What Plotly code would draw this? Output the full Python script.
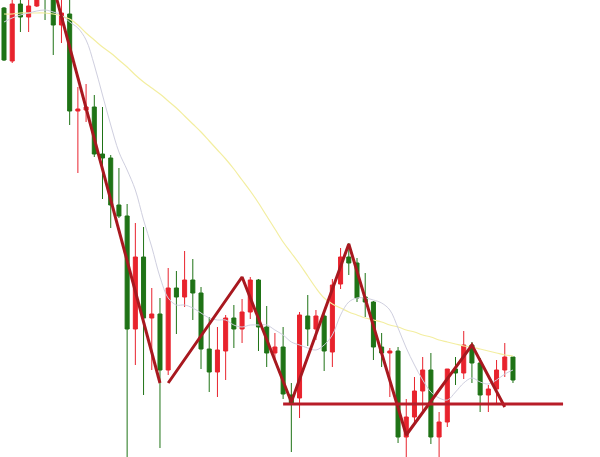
import plotly.graph_objects as go

# candle index positions
idx = list(range(63))

opens = [492, 439, 496, 483, 494, 512, 506, 475, 486, 389,
         390, 393, 346, 342, 295, 284, 171, 243, 182, 186,
         130, 212, 203, 220, 207, 151, 128, 149, 182, 171,
         188, 220, 173, 147, 153, 105, 102, 184, 171, 184,
         148, 216, 243, 237, 203, 198, 153, 147, 149, 63,
         83, 109, 130, 63, 78, 131, 127, 155, 137, 105,
         111, 130, 143]
highs = [493, 500, 502, 500, 506, 514, 510, 500, 505, 413,
         416, 405, 393, 345, 332, 296, 277, 273, 212, 202,
         232, 229, 249, 241, 213, 183, 173, 185, 195, 201,
         223, 221, 194, 167, 173, 117, 188, 205, 190, 188,
         221, 252, 257, 242, 227, 199, 167, 152, 153, 101,
         123, 143, 147, 88, 131, 143, 169, 158, 142, 115,
         140, 157, 143]
lows = [439, 437, 468, 468, 493, 480, 445, 457, 375, 327,
        378, 343, 301, 272, 282, 40, 135, 105, 130, 52,
        125, 166, 193, 180, 131, 108, 103, 120, 152, 157,
        181, 149, 133, 138, 101, 48, 82, 154, 160, 129,
        133, 211, 225, 198, 183, 140, 133, 103, 57, 40,
        78, 87, 56, 40, 73, 115, 121, 117, 88, 88,
        95, 123, 117]
closes = [440, 496, 483, 494, 502, 506, 475, 487, 389, 391,
          393, 346, 342, 295, 284, 171, 243, 182, 186, 130,
          212, 203, 220, 207, 151, 128, 150, 182, 171, 188,
          220, 173, 147, 153, 106, 97, 185, 171, 184, 149,
          215, 243, 237, 202, 198, 153, 147, 149, 63, 83,
          109, 130, 63, 78, 131, 127, 155, 137, 105, 111,
          130, 143, 120]

# slow moving average (yellow)
ma_slow = [486, 486, 487, 487, 487, 487, 486, 484, 481, 475,
           467, 460, 453, 447, 440, 433, 425, 418, 412, 406,
           399, 392, 384, 376, 368, 359, 350, 341, 331, 320,
           309, 297, 284, 271, 258, 247, 236, 224, 212, 202,
           196, 192, 188, 185, 182, 180, 178, 175, 173, 170,
           168, 165, 163, 160, 158, 156, 154, 153, 151, 149,
           147, 145, 144]

# fast moving average (grey)
ma_fast = [478, 482, 485, 487, 489, 490, 488, 485, 478, 472,
           460, 435, 405, 375, 348, 330, 310, 280, 253, 223,
           202, 195, 195, 192, 187, 182, 180, 180, 175, 173,
           175, 175, 175, 170, 165, 158, 155, 152, 150, 155,
           165, 185, 198, 202, 202, 200, 197, 190, 172, 152,
           135, 120, 108, 102, 100, 108, 117, 122, 118, 116,
           120, 126, 130]

# hand-drawn trend lines (candle index, price)
trend1_x = [6, 19]
trend1_y = [514, 117]
trend2_x = [20, 29, 35, 42, 49, 57, 61]
trend2_y = [117, 223, 98, 256, 65, 155, 93]
support_x = [34, 68.1]
support_y = [96, 96]

RED = "#e8232d"
GREEN = "#1f7316"
TREND = "#a8181f"

fig = go.Figure()
fig.add_trace(go.Candlestick(
    x=idx, open=opens, high=highs, low=lows, close=closes,
    increasing=dict(line=dict(color=RED, width=1), fillcolor=RED),
    decreasing=dict(line=dict(color=GREEN, width=1), fillcolor=GREEN),
    whiskerwidth=0, showlegend=False, hoverinfo="skip",
))
fig.add_trace(go.Scatter(x=idx, y=ma_slow, mode="lines",
                         line=dict(color="#f3eea0", width=1.2, shape="spline"),
                         showlegend=False, hoverinfo="skip"))
fig.add_trace(go.Scatter(x=idx, y=ma_fast, mode="lines",
                         line=dict(color="#cfcfdf", width=1, shape="spline"),
                         showlegend=False, hoverinfo="skip"))
fig.add_trace(go.Scatter(x=trend1_x, y=trend1_y, mode="lines",
                         line=dict(color=TREND, width=3),
                         showlegend=False, hoverinfo="skip"))
fig.add_trace(go.Scatter(x=trend2_x, y=trend2_y, mode="lines",
                         line=dict(color=TREND, width=3),
                         showlegend=False, hoverinfo="skip"))
fig.add_trace(go.Scatter(x=support_x, y=support_y, mode="lines",
                         line=dict(color="#b81c28", width=3),
                         showlegend=False, hoverinfo="skip"))

fig.update_layout(
    width=600, height=457,
    margin=dict(l=0, r=0, t=0, b=0),
    paper_bgcolor="white", plot_bgcolor="white",
    showlegend=False,
    xaxis=dict(visible=False, range=[-0.487, 72.6], rangeslider=dict(visible=False)),
    yaxis=dict(visible=False, range=[43, 500]),
)

fig.write_html(
    "out.html",
    config={"displayModeBar": False},
    post_script="document.body.style.margin='0';document.body.style.overflow='hidden';",
)
